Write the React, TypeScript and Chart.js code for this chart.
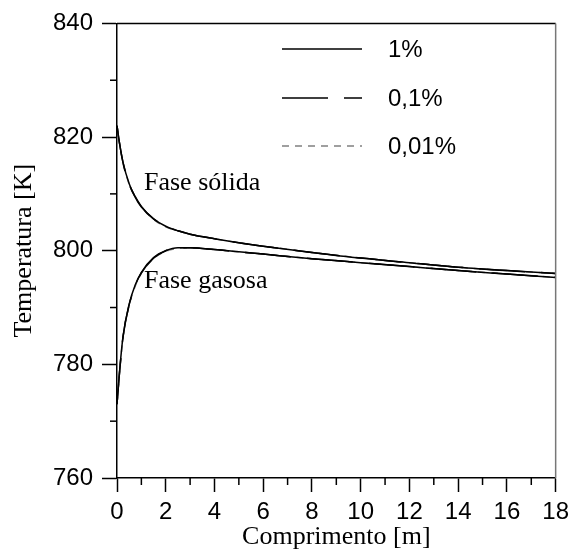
import { useEffect, useRef } from 'react';
import { Chart, registerables } from 'chart.js';

Chart.register(...registerables);

// Comprimento [m]
const positions = [0, 0.1, 0.25, 0.5, 0.75, 1, 1.5, 2, 2.5, 3, 4, 5, 6, 8, 10, 12, 14, 16, 18];

// Fase sólida [K]
const solid1 = [822, 819, 815.5, 811.8, 809.5, 807.8, 805.6, 804.3, 803.5, 802.9, 802.1, 801.4, 800.8, 799.7, 798.7, 797.9, 797.1, 796.5, 796.0];
const solid01 = [822, 819, 815.4, 811.7, 809.4, 807.7, 805.6, 804.3, 803.5, 802.9, 802.1, 801.4, 800.8, 799.7, 798.7, 797.9, 797.1, 796.5, 796.0];
const solid001 = [822, 818.9, 815.4, 811.7, 809.4, 807.7, 805.5, 804.2, 803.5, 802.9, 802.1, 801.4, 800.8, 799.7, 798.7, 797.9, 797.1, 796.5, 796.0];

// Fase gasosa [K]
const gas1 = [773, 778.5, 785, 790.6, 794, 796.2, 798.8, 800.0, 800.5, 800.5, 800.2, 799.8, 799.4, 798.6, 797.9, 797.2, 796.5, 795.9, 795.3];
const gas01 = [773, 778.4, 784.9, 790.5, 793.9, 796.1, 798.7, 800.0, 800.5, 800.5, 800.2, 799.8, 799.4, 798.6, 797.9, 797.2, 796.5, 795.9, 795.3];
const gas001 = [773, 778.3, 784.8, 790.4, 793.8, 796.0, 798.6, 799.9, 800.4, 800.5, 800.2, 799.8, 799.4, 798.6, 797.9, 797.2, 796.5, 795.9, 795.3];

const seriesNames = ['1%', '0,1%', '0,01%'];
const xMinorTicks = [1, 3, 5, 7, 9, 11, 13, 15, 17];
const yMinorTicks = [770, 790, 810, 830];
const phaseLabels = ['Fase sólida', 'Fase gasosa'];

const SANS = '"Liberation Sans", Arial, sans-serif';
const SERIF = '"Liberation Serif", "Times New Roman", serif';

const styles = [
  { color: '#000000', dash: [] as number[], width: 1.5 },
  { color: '#000000', dash: [46, 16], width: 1.5 },
  { color: '#808080', dash: [7, 6], width: 1.5 },
];

const toPts = (vals: number[]) => vals.map((v, i) => ({ x: positions[i], y: v }));

const decor = {
  id: 'decor',
  afterDraw(chart: any) {
    const { ctx, chartArea: a, scales } = chart;
    const x = scales.x;
    const y = scales.y;
    ctx.save();
    ctx.strokeStyle = '#000';
    ctx.lineWidth = 1.5;
    ctx.setLineDash([]);
    const line = (x1: number, y1: number, x2: number, y2: number) => {
      ctx.beginPath();
      ctx.moveTo(x1, y1);
      ctx.lineTo(x2, y2);
      ctx.stroke();
    };
    for (const v of xMinorTicks) {
      const px = x.getPixelForValue(v);
      line(px, a.bottom, px, a.bottom + 7);
    }
    for (const v of yMinorTicks) {
      const py = y.getPixelForValue(v);
      line(a.left - 7, py, a.left, py);
    }
    // top border
    line(a.left, a.top, a.right, a.top);
    // right border
    ctx.strokeStyle = '#777';
    line(a.right, a.top, a.right, a.bottom);

    // legend
    const lx1 = 282, lx2 = 362, tx = 388;
    const ly = [49, 98, 146];
    ctx.font = '24px ' + SANS;
    ctx.textBaseline = 'middle';
    ctx.textAlign = 'left';
    seriesNames.forEach((name, i) => {
      const s = styles[i];
      ctx.strokeStyle = s.color;
      ctx.lineWidth = s.width;
      ctx.setLineDash(s.dash);
      line(lx1, ly[i], lx2, ly[i]);
      ctx.setLineDash([]);
      ctx.fillStyle = '#000';
      ctx.fillText(name, tx, ly[i] + 1);
    });

    // phase labels
    ctx.font = '26px ' + SERIF;
    ctx.textBaseline = 'alphabetic';
    ctx.fillStyle = '#000';
    ctx.fillText(phaseLabels[0], 144, 190);
    ctx.fillText(phaseLabels[1], 144, 288);
    ctx.restore();
  },
};

export default function App() {
  const ref = useRef<HTMLCanvasElement | null>(null);

  useEffect(() => {
    if (!ref.current) return;
    const groups = [
      [solid1, solid01, solid001],
      [gas1, gas01, gas001],
    ];
    const datasets: any[] = [];
    for (let s = 0; s < 3; s++) {
      for (const g of groups) {
        datasets.push({
          label: seriesNames[s],
          data: toPts(g[s]),
          borderColor: styles[s].color,
          borderDash: styles[s].dash,
          borderWidth: styles[s].width,
          pointRadius: 0,
          fill: false,
          cubicInterpolationMode: 'monotone',
        });
      }
    }
    const chart = new Chart(ref.current, {
      type: 'line',
      data: { datasets },
      options: {
        animation: false,
        responsive: false,
        layout: { padding: { top: 19, right: 15, left: 0, bottom: 0 } },
        plugins: { legend: { display: false }, tooltip: { enabled: false } },
        scales: {
          x: {
            type: 'linear',
            min: 0,
            max: 18,
            afterFit: (s: any) => { s.height = 77; },
            ticks: {
              stepSize: 1,
              autoSkip: false,
              maxRotation: 0,
              padding: 6,
              color: '#000',
              font: { family: SANS, size: 24 },
              callback: (v: any) => (Number(v) % 2 === 0 ? String(v) : ''),
            },
            grid: {
              drawOnChartArea: false,
              tickLength: 14,
              tickWidth: 1.5,
              tickColor: (c: any) => (c.tick && Number(c.tick.value) % 2 === 0 ? '#000' : 'rgba(0,0,0,0)'),
            },
            border: { color: '#000', width: 1.5 },
            title: {
              display: true,
              text: 'Comprimento [m]',
              color: '#000',
              font: { family: SERIF, size: 26 },
              padding: { top: 0, bottom: 2 },
            },
          },
          y: {
            min: 760,
            max: 840,
            afterFit: (s: any) => { s.width = 117; },
            ticks: {
              stepSize: 10,
              autoSkip: false,
              padding: 9,
              color: '#000',
              font: { family: SANS, size: 24 },
              callback: (v: any) => (Number(v) % 20 === 0 ? String(v) : ''),
            },
            grid: {
              drawOnChartArea: false,
              tickLength: 15,
              tickWidth: 1.5,
              tickColor: (c: any) => (c.tick && Number(c.tick.value) % 20 === 0 ? '#000' : 'rgba(0,0,0,0)'),
            },
            border: { color: '#000', width: 1.5 },
            title: {
              display: true,
              text: 'Temperatura [K]',
              color: '#000',
              font: { family: SERIF, size: 26 },
              padding: { top: 9, bottom: 0 },
            },
          },
        },
      },
      plugins: [decor],
    });
    return () => chart.destroy();
  }, []);

  return (
    <canvas
      ref={ref}
      width={575}
      height={555}
      style={{ position: 'absolute', left: 0, top: 0, width: 575, height: 555, display: 'block', background: '#fff' }}
    />
  );
}
